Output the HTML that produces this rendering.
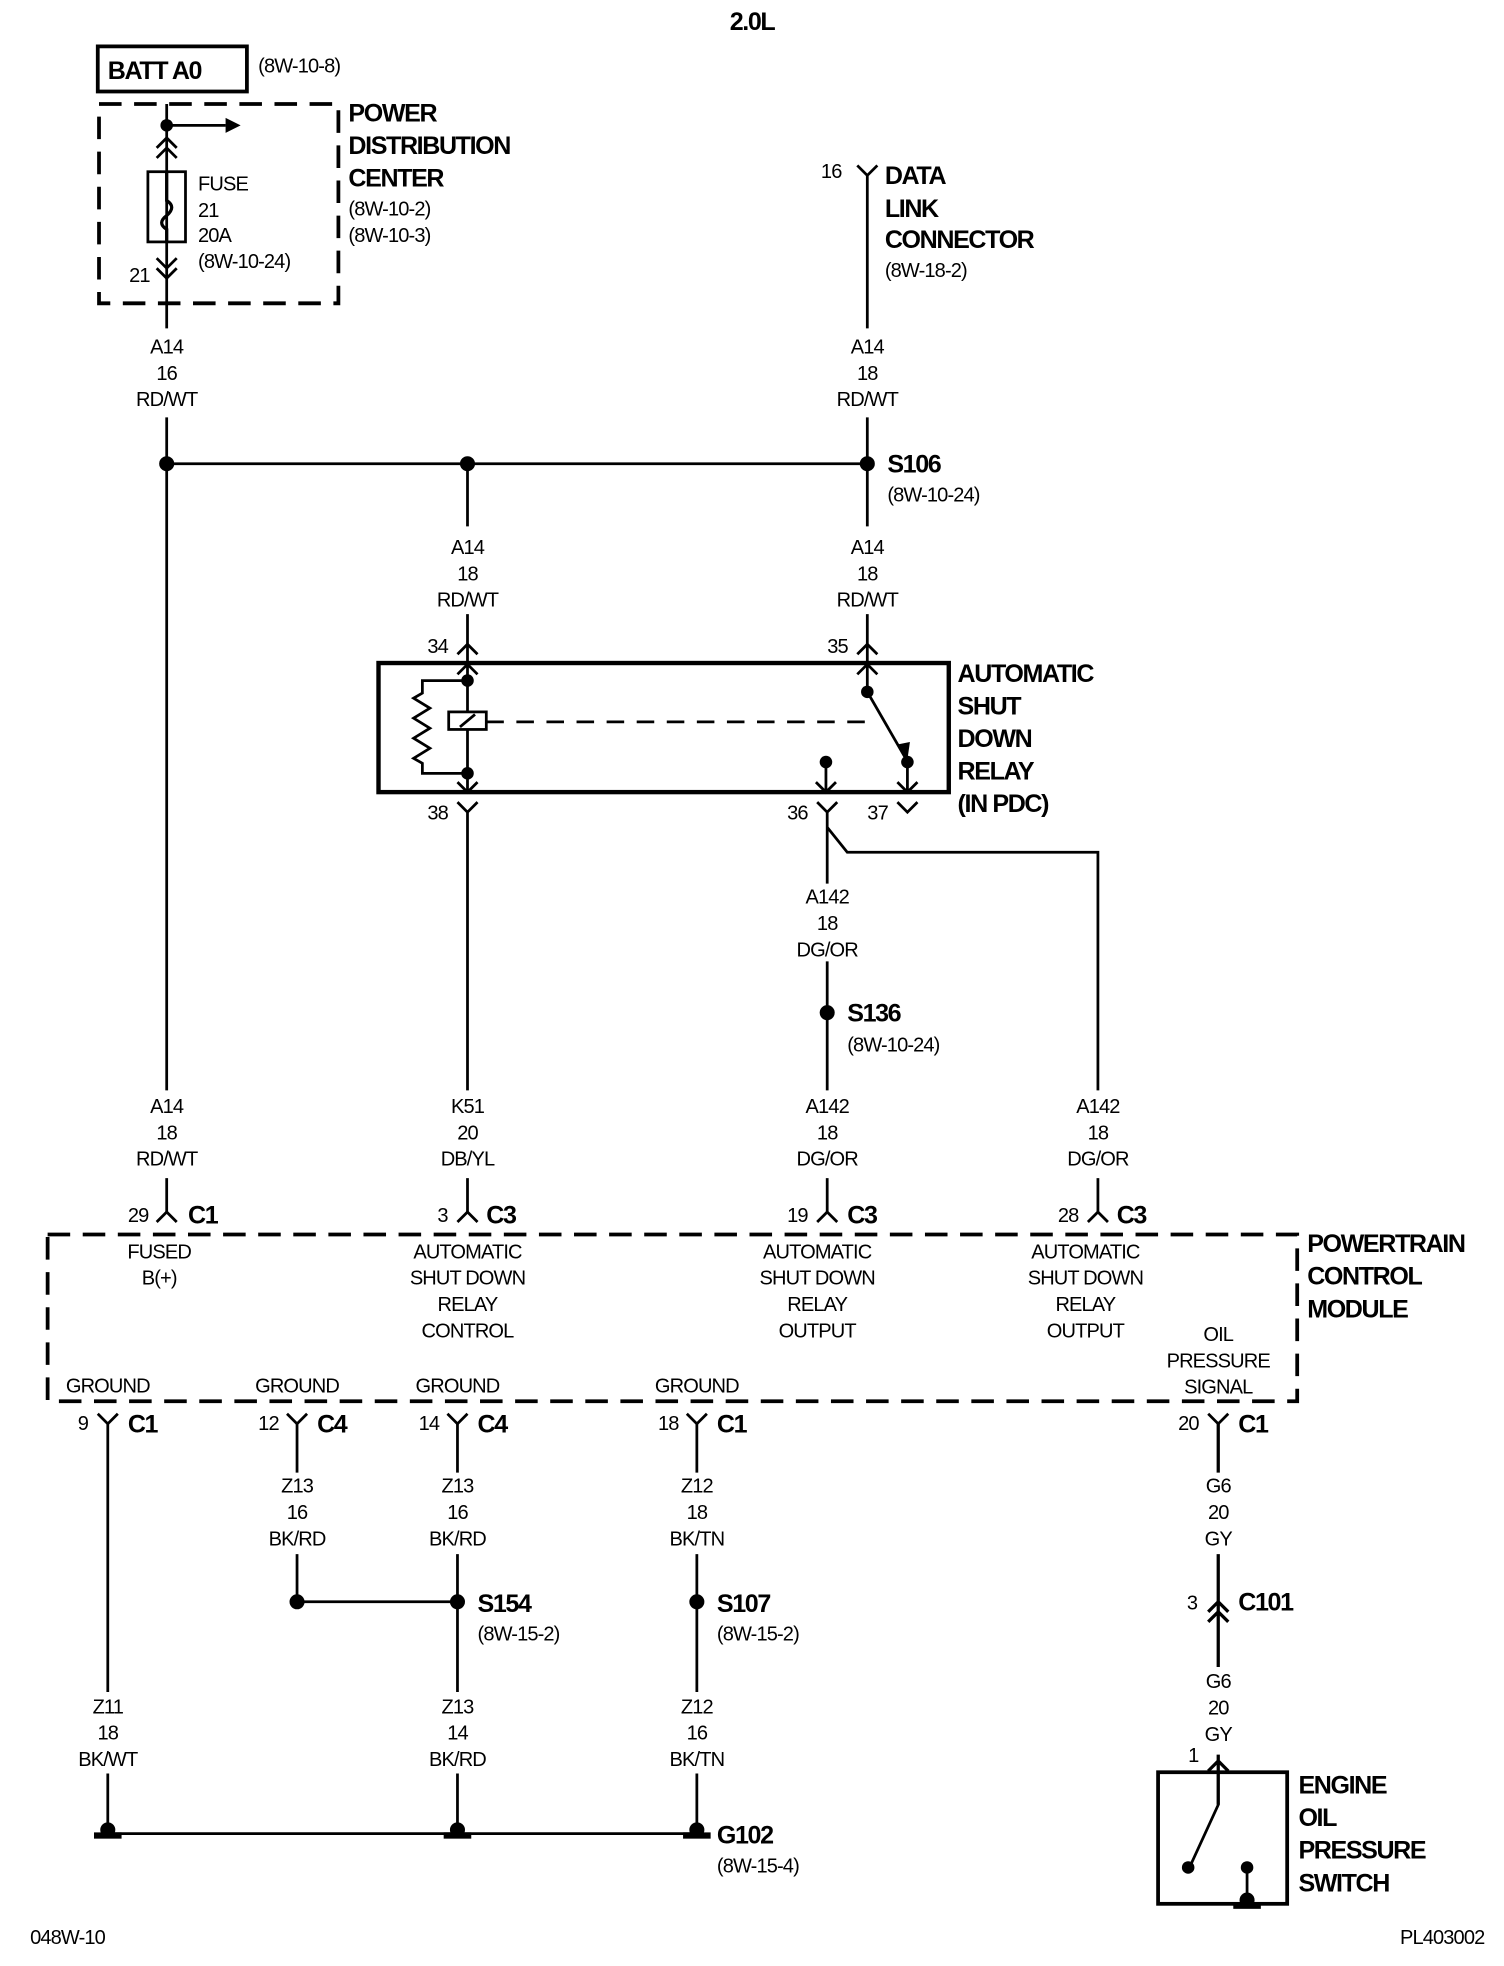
<!DOCTYPE html>
<html><head><meta charset="utf-8"><style>
html,body{margin:0;padding:0;background:#fff}
svg{display:block}
text{font-family:"Liberation Sans Narrow","Liberation Sans",sans-serif;fill:#000}
.s{font-size:16px;letter-spacing:-0.7px}
.b{font-size:20px;font-weight:bold;letter-spacing:-1.1px}
.m{text-anchor:middle}
</style></head><body>
<svg width="1504" height="1966" viewBox="0 0 1200 1568.6" xmlns="http://www.w3.org/2000/svg">
<g stroke="#000" stroke-width="2.2" fill="none">
<rect x="78" y="37" width="119" height="36" stroke-width="3"/>
<rect x="79" y="83" width="191" height="159" stroke-width="3" stroke-dasharray="18 10"/>
<path d="M133 83V262M133 333V870M133 940V967"/>
<path d="M133 100H180"/>
<path d="M125 118L133 110L141 118M125 126L133 118L141 126"/>
<rect x="118" y="137" width="30" height="56"/>
<path d="M133 137V160Q141 165 133 172Q125 178 133 183V193" stroke-width="2.6"/>
<path d="M125 206L133 214L141 206M125 214L133 222L141 214"/>
<path d="M133 370H692"/>
<path d="M692 140V262M692 333V420M692 490V529M684 132L692 140L700 132"/>
<path d="M373 370V420M373 490V529"/>
<path d="M365 522L373 514L381 522M684 522L692 514L700 522"/>
<rect x="302" y="529" width="455" height="103" stroke-width="3.5"/>
<path d="M373 529V632M365 538L373 530L381 538"/>
<path d="M373 543H337V553L330 557L343 565L330 573L343 581L330 589L343 597L330 605L337 609V617H373"/>
<rect x="358" y="568" width="30" height="14" fill="#fff"/>
<path d="M367 580L379 570"/>
<path d="M388 576H700" stroke-dasharray="14 10"/>
<path d="M684 538L692 530L700 538M692 529V552L722 604"/>
<path d="M724 608V632M659 608V632M365 624L373 632L381 624M651 624L659 632L667 624M716 624L724 632L732 624"/>
<path d="M365 640L373 648L381 640M373 648V870"/>
<path d="M652 640L660 648L668 640M660 648V705M660 660L676 680H876V870"/>
<path d="M716 640L724 648L732 640"/>
<path d="M660 767V870"/>
<path d="M125 975L133 967L141 975M365 975L373 967L381 975M652 975L660 967L668 975M868 975L876 967L884 975"/>
<path d="M373 940V967M660 940V967M876 940V967"/>
<rect x="38" y="985" width="997" height="133" stroke-width="3" stroke-dasharray="18 10"/>
<path d="M78 1128L86 1136L94 1128M229 1128L237 1136L245 1128M357 1128L365 1136L373 1128M548 1128L556 1136L564 1128M964 1128L972 1136L980 1128"/>
<path d="M86 1136V1350M86 1415V1463M237 1136V1175M237 1240V1278H365M365 1136V1175M365 1240V1350M365 1415V1463M556 1136V1175M556 1240V1350M556 1415V1463M86 1463H556"/>
<path d="M972 1136V1175M972 1240V1330M972 1400V1440M964 1286L972 1278L980 1286M964 1294L972 1286L980 1294M964 1413L972 1405L980 1413" stroke-width="2.6"/>
<rect x="924" y="1414" width="103" height="105" stroke-width="3"/>
<path d="M972 1414V1440L950 1488M995 1490V1519"/>
</g>
<g fill="#000">
<path d="M180 94L192 100L180 106Z"/>
<circle cx="133" cy="100" r="5"/>
<circle cx="133" cy="370" r="6"/><circle cx="373" cy="370" r="6"/><circle cx="692" cy="370" r="6"/>
<circle cx="373" cy="543" r="5"/><circle cx="373" cy="617" r="5"/>
<circle cx="692" cy="552" r="5"/><circle cx="724" cy="608" r="5"/><circle cx="659" cy="608" r="5"/>
<path d="M716 594L724 606L726 592Z"/>
<circle cx="660" cy="808" r="6"/>
<circle cx="237" cy="1278" r="6"/><circle cx="365" cy="1278" r="6"/><circle cx="556" cy="1278" r="6"/>
<circle cx="948" cy="1490" r="5"/><circle cx="995" cy="1490" r="5"/>
<g><circle cx="86" cy="1460" r="6"/><rect x="75" y="1462" width="22" height="5"/></g>
<g><circle cx="365" cy="1460" r="6"/><rect x="354" y="1462" width="22" height="5"/></g>
<g><circle cx="556" cy="1460" r="6"/><rect x="545" y="1462" width="22" height="5"/></g>
<g><circle cx="995" cy="1516" r="6"/><rect x="984" y="1518" width="22" height="5"/></g>
</g>
<text class="b m" x="600" y="24">2.0L</text>
<text class="b" x="86" y="63">BATT A0</text>
<text class="s" x="206" y="58">(8W-10-8)</text>
<text class="b" x="278" y="97">POWER</text><text class="b" x="278" y="123">DISTRIBUTION</text><text class="b" x="278" y="149">CENTER</text>
<text class="s" x="278" y="172">(8W-10-2)</text><text class="s" x="278" y="193">(8W-10-3)</text>
<text class="s" x="158" y="152">FUSE</text><text class="s" x="158" y="173">21</text><text class="s" x="158" y="193">20A</text><text class="s" x="158" y="214">(8W-10-24)</text>
<text class="s" x="103" y="225">21</text>
<text class="s" x="655" y="142">16</text>
<text class="b" x="706" y="147">DATA</text><text class="b" x="706" y="173">LINK</text><text class="b" x="706" y="198">CONNECTOR</text><text class="s" x="706" y="221">(8W-18-2)</text>
<text class="s m" x="133" y="282">A14</text><text class="s m" x="133" y="303">16</text><text class="s m" x="133" y="324">RD/WT</text>
<text class="s m" x="692" y="282">A14</text><text class="s m" x="692" y="303">18</text><text class="s m" x="692" y="324">RD/WT</text>
<text class="s m" x="373" y="442">A14</text><text class="s m" x="373" y="463">18</text><text class="s m" x="373" y="484">RD/WT</text>
<text class="s m" x="692" y="442">A14</text><text class="s m" x="692" y="463">18</text><text class="s m" x="692" y="484">RD/WT</text>
<text class="s m" x="660" y="721">A142</text><text class="s m" x="660" y="742">18</text><text class="s m" x="660" y="763">DG/OR</text>
<text class="s m" x="133" y="888">A14</text><text class="s m" x="133" y="909">18</text><text class="s m" x="133" y="930">RD/WT</text>
<text class="s m" x="373" y="888">K51</text><text class="s m" x="373" y="909">20</text><text class="s m" x="373" y="930">DB/YL</text>
<text class="s m" x="660" y="888">A142</text><text class="s m" x="660" y="909">18</text><text class="s m" x="660" y="930">DG/OR</text>
<text class="s m" x="876" y="888">A142</text><text class="s m" x="876" y="909">18</text><text class="s m" x="876" y="930">DG/OR</text>
<text class="b" x="708" y="377">S106</text><text class="s" x="708" y="400">(8W-10-24)</text>
<text class="s" x="341" y="521">34</text><text class="s" x="660" y="521">35</text>
<text class="b" x="764" y="544">AUTOMATIC</text><text class="b" x="764" y="570">SHUT</text><text class="b" x="764" y="596">DOWN</text><text class="b" x="764" y="622">RELAY</text><text class="b" x="764" y="648">(IN PDC)</text>
<text class="s" x="341" y="654">38</text><text class="s" x="628" y="654">36</text><text class="s" x="692" y="654">37</text>
<text class="b" x="676" y="815">S136</text><text class="s" x="676" y="839">(8W-10-24)</text>
<text class="s" x="102" y="975">29</text><text class="b" x="150" y="976">C1</text>
<text class="s" x="349" y="975">3</text><text class="b" x="388" y="976">C3</text>
<text class="s" x="628" y="975">19</text><text class="b" x="676" y="976">C3</text>
<text class="s" x="844" y="975">28</text><text class="b" x="891" y="976">C3</text>
<text class="b" x="1043" y="999">POWERTRAIN</text><text class="b" x="1043" y="1025">CONTROL</text><text class="b" x="1043" y="1051">MODULE</text>
<text class="s m" x="127" y="1004">FUSED</text><text class="s m" x="127" y="1025">B(+)</text>
<text class="s m" x="373" y="1004">AUTOMATIC</text><text class="s m" x="373" y="1025">SHUT DOWN</text><text class="s m" x="373" y="1046">RELAY</text><text class="s m" x="373" y="1067">CONTROL</text>
<text class="s m" x="652" y="1004">AUTOMATIC</text><text class="s m" x="652" y="1025">SHUT DOWN</text><text class="s m" x="652" y="1046">RELAY</text><text class="s m" x="652" y="1067">OUTPUT</text>
<text class="s m" x="866" y="1004">AUTOMATIC</text><text class="s m" x="866" y="1025">SHUT DOWN</text><text class="s m" x="866" y="1046">RELAY</text><text class="s m" x="866" y="1067">OUTPUT</text>
<text class="s m" x="972" y="1070">OIL</text><text class="s m" x="972" y="1091">PRESSURE</text><text class="s m" x="972" y="1112">SIGNAL</text>
<text class="s m" x="86" y="1111">GROUND</text><text class="s m" x="237" y="1111">GROUND</text><text class="s m" x="365" y="1111">GROUND</text><text class="s m" x="556" y="1111">GROUND</text>
<text class="s" x="62" y="1141">9</text><text class="b" x="102" y="1143">C1</text>
<text class="s" x="206" y="1141">12</text><text class="b" x="253" y="1143">C4</text>
<text class="s" x="334" y="1141">14</text><text class="b" x="381" y="1143">C4</text>
<text class="s" x="525" y="1141">18</text><text class="b" x="572" y="1143">C1</text>
<text class="s" x="940" y="1141">20</text><text class="b" x="988" y="1143">C1</text>
<text class="s m" x="237" y="1191">Z13</text><text class="s m" x="237" y="1212">16</text><text class="s m" x="237" y="1233">BK/RD</text>
<text class="s m" x="365" y="1191">Z13</text><text class="s m" x="365" y="1212">16</text><text class="s m" x="365" y="1233">BK/RD</text>
<text class="s m" x="556" y="1191">Z12</text><text class="s m" x="556" y="1212">18</text><text class="s m" x="556" y="1233">BK/TN</text>
<text class="s m" x="972" y="1191">G6</text><text class="s m" x="972" y="1212">20</text><text class="s m" x="972" y="1233">GY</text>
<text class="b" x="381" y="1286">S154</text><text class="s" x="381" y="1309">(8W-15-2)</text>
<text class="b" x="572" y="1286">S107</text><text class="s" x="572" y="1309">(8W-15-2)</text>
<text class="s" x="947" y="1284">3</text><text class="b" x="988" y="1285">C101</text>
<text class="s m" x="972" y="1347">G6</text><text class="s m" x="972" y="1368">20</text><text class="s m" x="972" y="1389">GY</text>
<text class="s" x="948" y="1406">1</text>
<text class="s m" x="86" y="1367">Z11</text><text class="s m" x="86" y="1388">18</text><text class="s m" x="86" y="1409">BK/WT</text>
<text class="s m" x="365" y="1367">Z13</text><text class="s m" x="365" y="1388">14</text><text class="s m" x="365" y="1409">BK/RD</text>
<text class="s m" x="556" y="1367">Z12</text><text class="s m" x="556" y="1388">16</text><text class="s m" x="556" y="1409">BK/TN</text>
<text class="b" x="572" y="1471">G102</text><text class="s" x="572" y="1494">(8W-15-4)</text>
<text class="b" x="1036" y="1431">ENGINE</text><text class="b" x="1036" y="1457">OIL</text><text class="b" x="1036" y="1483">PRESSURE</text><text class="b" x="1036" y="1509">SWITCH</text>
<text class="s" x="24" y="1551">048W-10</text><text class="s" x="1117" y="1551">PL403002</text>
</svg>
</body></html>
